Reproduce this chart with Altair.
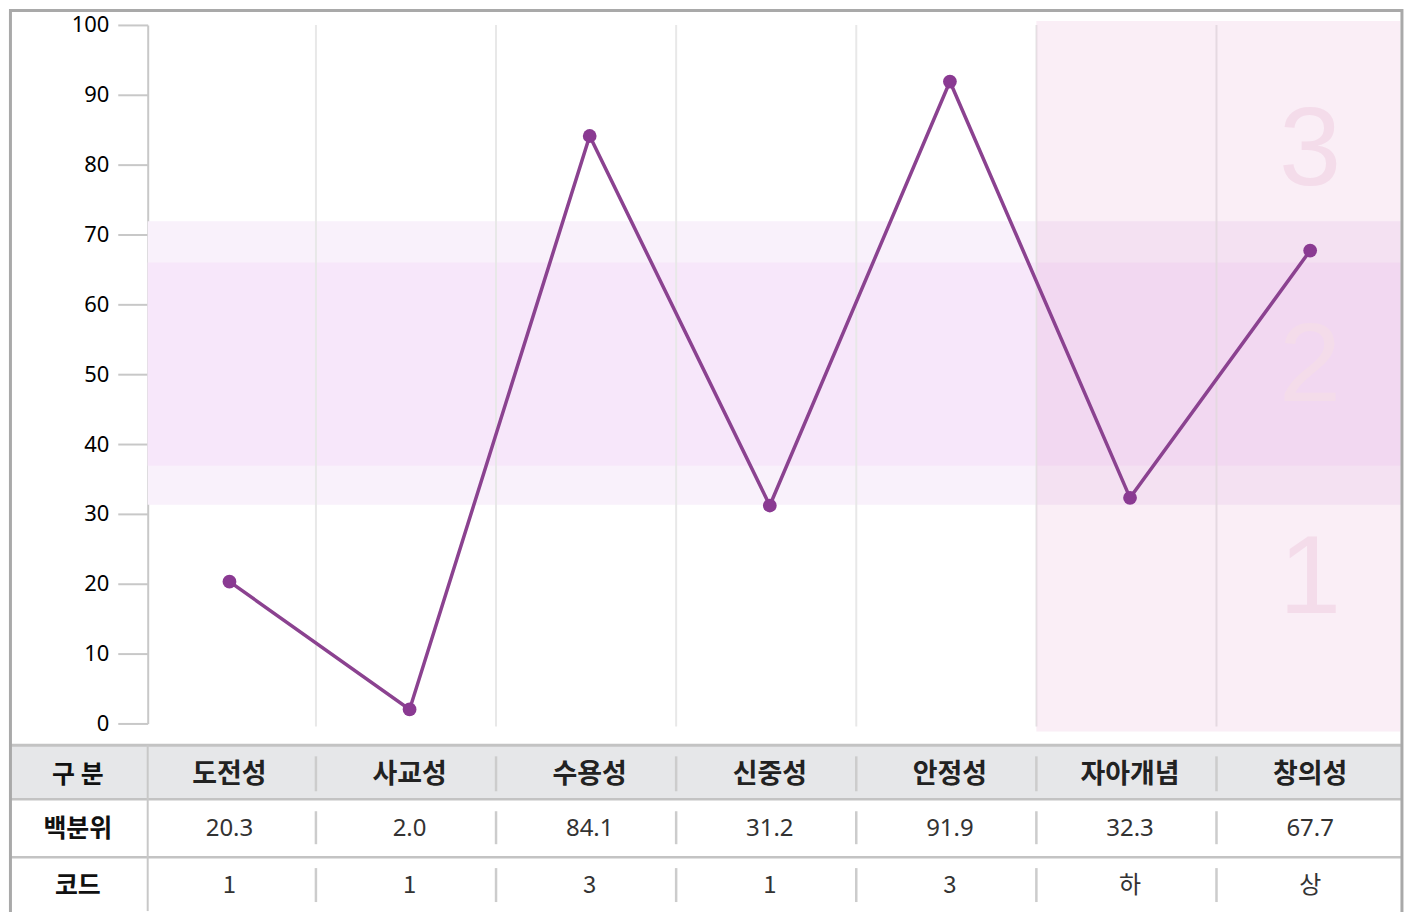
import altair as alt
import pandas as pd

# ---- data ----
categories = ["도전성", "사교성", "수용성", "신중성", "안정성", "자아개념", "창의성"]
percentiles = [20.3, 2.0, 84.1, 31.2, 91.9, 32.3, 67.7]
codes = ["1", "1", "3", "1", "3", "하", "상"]
row_labels = ["구 분", "백분위", "코드"]
y_ticks = list(range(0, 101, 10))
band_outer = [31.3, 71.9]
band_inner = [36.9, 66.0]
level_labels = ["3", "2", "1"]
level_y = [82, 51, 20.6]
highlight_cols = ["자아개념", "창의성"]

# ---- layout (data units) ----
X_MIN, X_MAX = -0.454, 6.51
SEP_OFF = 0.48
TBL_TOP, TBL_H1, TBL_H2, TBL_BOT = -3.14, -10.86, -19.14, -26.86
LBL_LEFT, LBL_X = -1.216, -0.842
FRAME = dict(x=-1.216, x2=6.5097, y=102.05, y2=-27.2)

idx = list(range(len(categories)))
xs = alt.Scale(domain=[X_MIN, X_MAX], nice=False, zero=False)
ys = alt.Scale(domain=[0, 100], nice=False, zero=False)
FONT = "Noto Sans CJK KR"
NUM_FONT = "Noto Sans"

y_axis = alt.Axis(
    values=y_ticks, title=None, grid=False, tickSize=30, tickWidth=2,
    tickColor="#c8c8c8", domainColor="#c8c8c8", domainWidth=2,
    labelFont=NUM_FONT, labelFontSize=22, labelColor="#000000",
    labelPadding=9)


def X(f):
    return alt.X(f, type="quantitative", scale=xs, axis=None)


def Y(f):
    return alt.Y(f, type="quantitative", scale=ys, axis=y_axis)


main = pd.DataFrame({"x": idx, "cat": categories, "v": percentiles,
                     "code": codes,
                     "vs": [f"{p:.1f}" for p in percentiles]})

bands = pd.DataFrame({"x": [X_MIN, X_MIN], "x2": [X_MAX, X_MAX],
                      "y": [band_outer[0], band_inner[0]],
                      "y2": [band_outer[1], band_inner[1]],
                      "c": ["#f9f1fb", "#f7e7fa"]})
band_layer = alt.Chart(bands).mark_rect().encode(
    x=X("x"), x2="x2", y=Y("y"), y2="y2",
    fill=alt.Fill("c:N", scale=None))

hi_idx = [categories.index(c) for c in highlight_cols]
hl = pd.DataFrame({"x": [min(hi_idx) - 1 + SEP_OFF], "x2": [X_MAX - 0.01],
                   "y": [-1.14], "y2": [100.57]})
hl_layer = alt.Chart(hl).mark_rect(color="#cd55a5", opacity=0.1).encode(
    x=X("x"), x2="x2", y=Y("y"), y2="y2")

seps = pd.DataFrame({"x": [k + SEP_OFF for k in idx[:-1]], "a": 100.0, "b": -0.43})
grid_layer = alt.Chart(seps).mark_rule(color="#e8e8e8", strokeWidth=2).encode(
    x=X("x"), y=Y("a"), y2="b")

lv = pd.DataFrame({"t": level_labels, "y": level_y, "x": [idx[-1]] * 3})
level_layer = alt.Chart(lv).mark_text(font="Liberation Sans", fontSize=112, color="#f4dcea",
                                      baseline="middle", align="center").encode(
    x=X("x"), y=Y("y"), text="t:N")

line_layer = alt.Chart(main).mark_line(color="#8b4290", strokeWidth=3.5).encode(
    x=X("x"), y=Y("v"))
pt_layer = alt.Chart(main).mark_circle(color="#8a3a92", size=190, opacity=1).encode(
    x=X("x"), y=Y("v"))

# ---- table ----
hdr = pd.DataFrame({"x": [LBL_LEFT], "x2": [FRAME["x2"]], "y": [TBL_TOP], "y2": [TBL_H1]})
hdr_layer = alt.Chart(hdr).mark_rect(color="#e6e7e9").encode(
    x=X("x"), x2="x2", y=Y("y"), y2="y2")

hl_lines = pd.DataFrame({"y": [TBL_TOP, TBL_H1, TBL_H2], "w": [3, 2.5, 2.5],
                         "x": [LBL_LEFT] * 3, "x2": [FRAME["x2"]] * 3})
hline_layer = alt.Chart(hl_lines).mark_rule(color="#c3c3c3").encode(
    x=X("x"), x2="x2", y=Y("y"), strokeWidth=alt.StrokeWidth("w:Q", scale=None))

vline = pd.DataFrame({"x": [X_MIN], "y": [TBL_TOP], "y2": [TBL_BOT]})
vline_layer = alt.Chart(vline).mark_rule(color="#c8c8c8", strokeWidth=2).encode(
    x=X("x"), y=Y("y"), y2="y2")

short = []
for s in seps["x"]:
    for a, b in [(-4.71, -9.71), (-12.57, -17.29), (-20.71, -25.57)]:
        short.append({"x": s, "y": a, "y2": b})
short_layer = alt.Chart(pd.DataFrame(short)).mark_rule(
    color="#cccccc", strokeWidth=2.5).encode(x=X("x"), y=Y("y"), y2="y2")

row_y = [-7.43, -15.14, -23.29]
rl = pd.DataFrame({"t": row_labels, "y": row_y, "x": [LBL_X] * 3})
rl_layer = alt.Chart(rl).mark_text(font=FONT, fontSize=25, fontWeight="bold",
                                   color="#111111").encode(
    x=X("x"), y=Y("y"), text="t:N")

main["r0"] = row_y[0]
main["r1"] = row_y[1]
main["r2"] = row_y[2]
cat_layer = alt.Chart(main).mark_text(font=FONT, fontSize=27, fontWeight="bold",
                                      color="#222222").encode(
    x=X("x"), y=Y("r0"), text="cat:N")
val_layer = alt.Chart(main).mark_text(font=NUM_FONT, fontSize=24, color="#333333").encode(
    x=X("x"), y=Y("r1"), text="vs:N")
code_layer = alt.Chart(main).mark_text(font=FONT, fontSize=24, color="#333333").encode(
    x=X("x"), y=Y("r2"), text="code:N")

frame = pd.DataFrame([FRAME])
frame_layer = alt.Chart(frame).mark_rect(fillOpacity=0, stroke="#a9a9a9", strokeWidth=3).encode(
    x=X("x"), x2="x2", y=Y("y"), y2="y2")

chart = alt.layer(
    band_layer, grid_layer, hl_layer, level_layer, line_layer, pt_layer,
    hdr_layer, hline_layer, vline_layer, short_layer,
    rl_layer, cat_layer, val_layer, code_layer, frame_layer
).properties(width=1257, height=700, padding=0).configure_view(stroke=None)

chart.save("out.html", embed_options={"renderer": "svg", "actions": False})
